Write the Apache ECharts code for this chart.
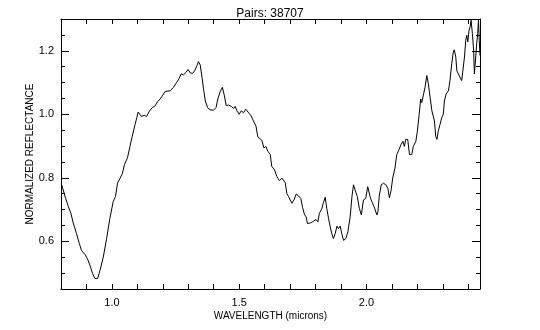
<!DOCTYPE html>
<html>
<head>
<meta charset="utf-8">
<script src="https://cdn.jsdelivr.net/npm/echarts@6/dist/echarts.min.js"></script>
<style>
  html, body { margin: 0; padding: 0; background: #fff; }
  #chart { width: 540px; height: 330px; }
</style>
</head>
<body>
<div id="chart"></div>
<script>
// spectrum: wavelength (microns) and normalized reflectance
const wavelength = [
  0.802, 0.809, 0.818, 0.829, 0.839, 0.848, 0.855, 0.861, 0.872, 0.881,
  0.894, 0.904, 0.914, 0.924, 0.933, 0.944, 0.953, 0.966, 0.979, 0.992,
  1.005, 1.014, 1.022, 1.032, 1.041, 1.049, 1.061, 1.071, 1.080, 1.091,
  1.098, 1.103, 1.110, 1.116, 1.127, 1.136, 1.145, 1.158, 1.169, 1.179,
  1.189, 1.198, 1.209, 1.229, 1.242, 1.255, 1.264, 1.272, 1.281, 1.291,
  1.299, 1.308, 1.317, 1.325, 1.334, 1.340, 1.347, 1.354, 1.360, 1.367,
  1.376, 1.386, 1.399, 1.409, 1.416, 1.425, 1.434, 1.442, 1.449, 1.458,
  1.469, 1.478, 1.484, 1.491, 1.500, 1.508, 1.517, 1.526, 1.537, 1.547,
  1.556, 1.566, 1.573, 1.580, 1.589, 1.597, 1.605, 1.613, 1.622, 1.628,
  1.639, 1.648, 1.658, 1.668, 1.674, 1.681, 1.687, 1.694, 1.700, 1.707,
  1.716, 1.724, 1.733, 1.742, 1.749, 1.756, 1.763, 1.768, 1.779, 1.787,
  1.794, 1.802, 1.809, 1.815, 1.825, 1.831, 1.838, 1.844, 1.851, 1.857,
  1.864, 1.870, 1.877, 1.884, 1.890, 1.897, 1.903, 1.910, 1.919, 1.927,
  1.936, 1.943, 1.949, 1.955, 1.964, 1.972, 1.980, 1.988, 1.997, 2.005,
  2.014, 2.021, 2.030, 2.041, 2.045, 2.050, 2.058, 2.067, 2.076, 2.084,
  2.090, 2.097, 2.103, 2.112, 2.119, 2.128, 2.136, 2.143, 2.149, 2.154,
  2.162, 2.169, 2.178, 2.184, 2.194, 2.200, 2.207, 2.213, 2.217, 2.223,
  2.230, 2.237, 2.243, 2.250, 2.257, 2.263, 2.267, 2.272, 2.277, 2.282,
  2.289, 2.296, 2.302, 2.306, 2.313, 2.322, 2.328, 2.335, 2.341, 2.345,
  2.351, 2.355, 2.361, 2.368, 2.374, 2.381, 2.385, 2.390, 2.394, 2.398,
  2.403, 2.407, 2.411, 2.416, 2.421, 2.424, 2.429, 2.433, 2.437, 2.440,
  2.443, 2.446
]
const reflectance = [
  0.780, 0.775, 0.736, 0.709, 0.688, 0.658, 0.654, 0.624, 0.593, 0.571,
  0.559, 0.545, 0.524, 0.499, 0.483, 0.483, 0.508, 0.550, 0.608, 0.672,
  0.725, 0.741, 0.783, 0.799, 0.813, 0.841, 0.863, 0.899, 0.931, 0.968,
  0.990, 1.007, 1.000, 0.993, 0.997, 0.993, 1.007, 1.021, 1.026, 1.039,
  1.048, 1.058, 1.072, 1.074, 1.085, 1.101, 1.113, 1.127, 1.124, 1.132,
  1.141, 1.130, 1.129, 1.137, 1.153, 1.166, 1.155, 1.116, 1.079, 1.042,
  1.021, 1.014, 1.013, 1.021, 1.048, 1.071, 1.085, 1.058, 1.027, 1.029,
  1.025, 1.018, 1.025, 1.011, 1.000, 1.011, 1.005, 1.016, 1.005, 0.995,
  0.979, 0.963, 0.929, 0.931, 0.918, 0.894, 0.899, 0.883, 0.873, 0.836,
  0.825, 0.804, 0.791, 0.799, 0.802, 0.785, 0.751, 0.741, 0.735, 0.720,
  0.732, 0.749, 0.743, 0.735, 0.707, 0.686, 0.677, 0.656, 0.658, 0.661,
  0.656, 0.669, 0.661, 0.688, 0.704, 0.722, 0.739, 0.704, 0.672, 0.648,
  0.624, 0.609, 0.624, 0.648, 0.640, 0.648, 0.624, 0.603, 0.609, 0.630,
  0.677, 0.741, 0.778, 0.762, 0.741, 0.704, 0.683, 0.730, 0.735, 0.772,
  0.741, 0.725, 0.709, 0.683, 0.693, 0.741, 0.778, 0.783, 0.778, 0.767,
  0.737, 0.762, 0.799, 0.831, 0.873, 0.889, 0.905, 0.915, 0.899, 0.921,
  0.921, 0.873, 0.873, 0.899, 0.915, 0.947, 1.000, 1.048, 1.037, 1.058,
  1.085, 1.122, 1.096, 1.054, 1.011, 1.005, 0.979, 0.931, 0.921, 0.947,
  0.968, 0.990, 1.000, 1.042, 1.064, 1.074, 1.106, 1.159, 1.196, 1.203,
  1.180, 1.137, 1.127, 1.116, 1.106, 1.111, 1.180, 1.233, 1.249, 1.228,
  1.264, 1.275, 1.296, 1.254, 1.201, 1.127, 1.180, 1.222, 1.254, 1.296,
  1.233, 1.185
]
const xLabels = [1.0, 1.5, 2.0]
const yLabels = [0.6, 0.8, 1.0, 1.2]

const ink = '#000'
const font = 'Liberation Sans'

function pick(list) {
  return function (v) {
    for (let i = 0; i < list.length; i++) {
      if (Math.abs(v - list[i]) < 1e-6) return list[i].toFixed(1)
    }
    return ''
  }
}

function xAxisDef(pos, labels) {
  return {
    type: 'value', position: pos, min: 0.8, max: 2.446, interval: 0.1,
    axisLine: { show: true, onZero: false, lineStyle: { color: ink, width: 1 } },
    axisTick: { show: true, inside: true, length: 5, lineStyle: { color: ink } },
    axisLabel: {
      show: labels, color: ink, fontFamily: font, fontSize: 11, margin: 8,
      showMinLabel: true, showMaxLabel: false, formatter: pick(xLabels)
    },
    splitLine: { show: false }
  }
}

function yAxisDef(pos, major, labels) {
  const ax = {
    type: 'value', position: pos, min: 0.45, max: 1.3, interval: 0.05,
    axisLine: { show: true, onZero: false, lineStyle: { color: ink, width: 1 } },
    axisTick: { show: true, inside: true, length: 4, lineStyle: { color: ink } },
    axisLabel: {
      show: labels, color: ink, fontFamily: font, fontSize: 11, margin: 7,
      formatter: pick(yLabels)
    },
    splitLine: { show: false }
  }
  if (major) {
    ax.axisLine = { show: false }
    ax.axisTick = { show: true, inside: true, length: 8, customValues: yLabels, lineStyle: { color: ink } }
    ax.axisLabel = { show: false }
  }
  return ax
}

const option = {
  backgroundColor: '#fff',
  animation: false,
  title: {
    text: 'Pairs: 38707', left: 'center', top: 3,
    textStyle: { color: ink, fontFamily: font, fontSize: 12, fontWeight: 'normal' }
  },
  grid: { left: 61, right: 60, top: 19, bottom: 41 },
  xAxis: [
    Object.assign(xAxisDef('bottom', true), {
      name: 'WAVELENGTH (microns)', nameLocation: 'middle', nameGap: 22,
      nameMoveOverlap: false,
      nameTextStyle: { color: ink, fontFamily: font, fontSize: 10 }
    }),
    xAxisDef('top', false)
  ],
  yAxis: [
    Object.assign(yAxisDef('left', false, true), {
      name: 'NORMALIZED REFLECTANCE', nameLocation: 'middle', nameGap: 26,
      nameMoveOverlap: false,
      nameTextStyle: { color: ink, fontFamily: font, fontSize: 10 }
    }),
    yAxisDef('left', true, false),
    yAxisDef('right', false, false),
    yAxisDef('right', true, false)
  ],
  series: [{
    type: 'line',
    xAxisIndex: 0,
    yAxisIndex: 0,
    data: wavelength.map((w, i) => [w, reflectance[i]]),
    showSymbol: false,
    clip: true,
    lineStyle: { color: ink, width: 1 }
  }]
}

const chart = echarts.init(document.getElementById('chart'), null, { renderer: 'canvas' })
chart.setOption(option)
</script>
</body>
</html>
